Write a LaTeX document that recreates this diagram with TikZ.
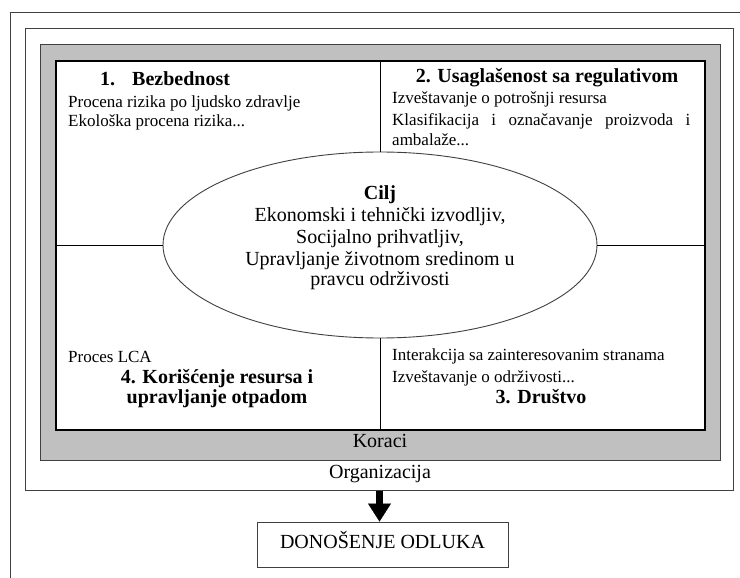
\documentclass[tikz,border=0pt]{standalone}
\usepackage{fontspec}
\setmainfont{Liberation Serif}
\usetikzlibrary{shapes.geometric,arrows.meta}
\definecolor{bandgray}{HTML}{C0C0C0}
\definecolor{edge}{HTML}{404040}
\begin{document}
\begin{tikzpicture}[x=1pt,y=-1pt,
  frame/.style={draw=edge, line width=1pt},
  box/.style={frame, inner sep=0pt, anchor=north west},
  txt/.style={inner sep=0pt, font=\fontsize{17}{20}\selectfont},
  head/.style={inner sep=0pt, font=\fontsize{20}{24}\selectfont\bfseries},
  goaltxt/.style={inner sep=0pt, font=\fontsize{20}{24}\selectfont},
  divider/.style={draw=black, line width=1pt}]
\useasboundingbox (0,0) rectangle (740,578);
\fill[white] (0,0) rectangle (740,578);

% page frame, running off the sheet on the right and at the bottom
\draw[frame] (10,600) -- (10,13) -- (760,13);

% nested frames: organisation, steps, quadrants
\node[box, fill=white, minimum width=708pt, minimum height=462pt] (org) at (25,28) {};
\node[box, fill=bandgray, minimum width=680pt, minimum height=416pt] (steps) at (40,44) {};
\node[box, draw=black, line width=2pt, fill=white, minimum width=649pt, minimum height=369pt] (quad) at (55,60) {};

% central goal
\node[ellipse, draw=edge, line width=0.9pt, fill=white, inner sep=0pt,
      minimum width=434pt, minimum height=186pt] (goal) at (380,245) {};

% quadrant dividers
\draw[divider] (quad.north -| goal.center) -- (goal.north);
\draw[divider] (goal.south) -- (goal.south |- quad.south);
\draw[divider] (quad.west |- goal.center) -- (goal.west);
\draw[divider] (goal.east) -- (goal.center -| quad.east);

% goal text
\node[head, anchor=base] (g0) at (380,200) {Cilj};
\node[goaltxt, anchor=base] (g1) at (380,222) {Ekonomski i tehnički izvodljiv,};
\node[goaltxt, anchor=base] (g2) at (380,243) {Socijalno prihvatljiv,};
\node[goaltxt, anchor=base] (g3) at (380,265) {Upravljanje životnom sredinom u};
\node[goaltxt, anchor=base] (g4) at (380,285) {pravcu održivosti};

% quadrant 1
\node[head, anchor=base west] (q1h) at (100,86) {1.\hspace{17pt}Bezbednost};
\node[txt, anchor=base west] (q1a) at (68,108) {Procena rizika po ljudsko zdravlje};
\node[txt, anchor=base west] (q1b) at (68,127) {Ekološka procena rizika...};

% quadrant 2
\node[head, anchor=base] (q2h) at (547,83) {2. Usaglašenost sa regulativom};
\node[txt, anchor=base west] (q2a) at (392,104) {Izveštavanje o potrošnji resursa};
\node[txt, anchor=base west] (q2b) at (392,126) {\makebox[298pt][s]{Klasifikacija i označavanje proizvoda i}};
\node[txt, anchor=base west] (q2c) at (392,146) {ambalaže...};

% quadrant 3
\node[txt, anchor=base west] (q3a) at (392,360) {Interakcija sa zainteresovanim stranama};
\node[txt, anchor=base west] (q3b) at (392,382) {Izveštavanje o održivosti...};
\node[head, anchor=base] (q3h) at (541,403) {3. Društvo};

% quadrant 4
\node[txt, anchor=base west] (q4a) at (68,362) {Proces LCA};
\node[head, anchor=base] (q4h) at (217,383) {4. Korišćenje resursa i};
\node[head, anchor=base] (q4i) at (217,403) {upravljanje otpadom};

% frame captions
\node[goaltxt, anchor=base] (stepslbl) at (380,447) {Koraci};
\node[goaltxt, anchor=base] (orglbl) at (380,478) {Organizacija};

% decision
\node[frame, inner sep=0pt, minimum width=251pt, minimum height=45pt,
      font=\fontsize{20}{24}\selectfont, text height=10pt, text depth=3pt] (decision) at (382.5,544.5) {DONOŠENJE ODLUKA};
\draw[line width=7pt, -{Triangle[width=23pt,length=18pt,line width=0.1pt]}]
  (org.south) -- (org.south |- decision.north);
\end{tikzpicture}
\end{document}
